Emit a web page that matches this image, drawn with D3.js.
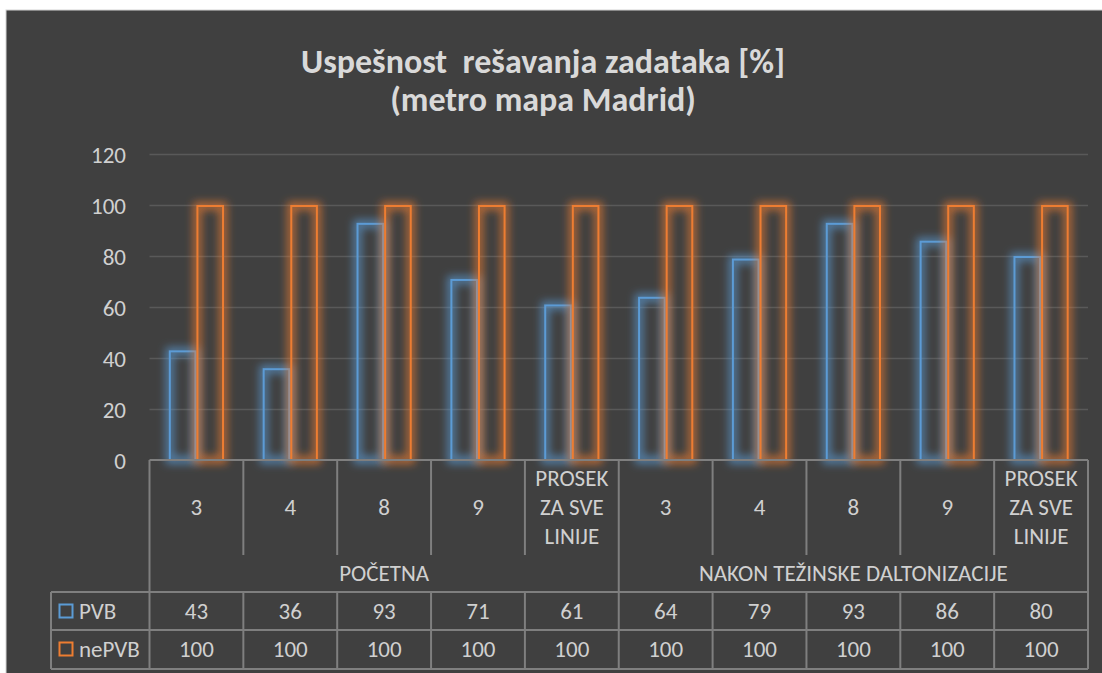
<!DOCTYPE html>
<html>
<head>
<meta charset="utf-8">
<script src="https://cdn.jsdelivr.net/npm/d3@7"></script>
<style>
  html, body { margin: 0; padding: 0; background: #ffffff; }
  svg { display: block; }
  text { font-family: Carlito, Lato, "Noto Sans", sans-serif; }
</style>
</head>
<body>
<svg id="chart" width="1102" height="673"></svg>
<script>
// Line categories and their groups
const categories = ["3", "4", "8", "9", "PROSEK\nZA SVE\nLINIJE", "3", "4", "8", "9", "PROSEK\nZA SVE\nLINIJE"];
const groups = ["POČETNA", "NAKON TEŽINSKE DALTONIZACIJE"];
const groupSizes = [5, 5];

// Series values (success rate, %)
const seriesNames = ["PVB", "nePVB"];
const pvbValues = [43, 36, 93, 71, 61, 64, 79, 93, 86, 80];
const nepvbValues = [100, 100, 100, 100, 100, 100, 100, 100, 100, 100];
const seriesColors = ["#5b9bd5", "#ed7d31"];

const yTicks = [0, 20, 40, 60, 80, 100, 120];
const titleLines = ["Uspešnost  rešavanja zadataka [%]", "(metro mapa Madrid)"];

const series = [pvbValues, nepvbValues];

const svg = d3.select("#chart");
const textColor = "#d0d0d0";
const lineColor = "#7f7f7f";
const fontSize = "23px";

// chart background
svg.append("rect").attr("x", 6).attr("y", 10).attr("width", 1102).attr("height", 670)
  .attr("fill", "#404040").attr("stroke", "#d4d4d4").attr("stroke-width", 1);

// glow filters
const defs = svg.append("defs");
seriesColors.forEach((c, i) => {
  const f = defs.append("filter").attr("id", "glow" + i)
    .attr("x", "-50%").attr("y", "-10%").attr("width", "200%").attr("height", "120%");
  f.append("feMorphology").attr("in", "SourceGraphic").attr("operator", "dilate").attr("radius", 2.5).attr("result", "thick");
  f.append("feGaussianBlur").attr("in", "thick").attr("stdDeviation", 4).attr("result", "blur");
  f.append("feComponentTransfer").attr("in", "blur").attr("result", "soft")
    .append("feFuncA").attr("type", "linear").attr("slope", 0.7);
  const m = f.append("feMerge");
  m.append("feMergeNode").attr("in", "soft");
  m.append("feMergeNode").attr("in", "SourceGraphic");
});

// scales
const plotLeft = 149.5, plotRight = 1088;
const x0 = d3.scaleBand().domain(d3.range(categories.length)).range([plotLeft, plotRight]).padding(0);
const x1 = d3.scaleBand().domain(seriesNames).range([0, x0.bandwidth()]).paddingInner(0).paddingOuter(0.7);
const y = d3.scaleLinear().domain([0, 120]).range([460, 154]);

// gridlines
svg.append("g").selectAll("line").data(yTicks.filter(t => t > 0)).join("line")
  .attr("x1", plotLeft).attr("x2", plotRight)
  .attr("y1", d => Math.round(y(d)) + 0.5).attr("y2", d => Math.round(y(d)) + 0.5)
  .attr("stroke", "#595959").attr("stroke-width", 1.3);

// y axis labels
const yAxis = d3.axisLeft(y).tickValues(yTicks).tickSize(0).tickPadding(0);
const yg = svg.append("g").attr("transform", "translate(126,0)").call(yAxis);
yg.select(".domain").remove();
yg.selectAll("text").attr("fill", textColor).style("font-size", fontSize)
  .style("font-family", "Carlito, Lato, 'Noto Sans', sans-serif").attr("dy", "0.35em");

// title
svg.append("g").selectAll("text").data(titleLines).join("text")
  .attr("x", 543).attr("y", (d, i) => 73 + i * 38)
  .attr("text-anchor", "middle").attr("fill", "#d9d9d9")
  .style("font-size", "34px").style("font-weight", "bold")
  .style("white-space", "pre").attr("xml:space", "preserve")
  .text(d => d);

// bars
series.forEach((vals, si) => {
  svg.append("g").attr("filter", "url(#glow" + si + ")")
    .selectAll("rect").data(vals).join("rect")
    .attr("x", (d, i) => x0(i) + x1(seriesNames[si]) + 1)
    .attr("y", d => y(d) + 1)
    .attr("width", x1.bandwidth() - 2)
    .attr("height", d => y(0) - y(d) - 1)
    .attr("fill", "none")
    .attr("stroke", seriesColors[si]).attr("stroke-width", 2);
});

// data table
const tbl = svg.append("g").attr("stroke", lineColor).attr("stroke-width", 2);
const rowCatTop = 460, rowCatBottom = 555, rowGroupBottom = 592, rowPvbBottom = 630, rowNeBottom = 669;
const legendLeft = 51;

// axis line / top of table
tbl.append("line").attr("x1", plotLeft).attr("x2", plotRight).attr("y1", rowCatTop).attr("y2", rowCatTop);
// horizontal row lines
[rowGroupBottom, rowPvbBottom, rowNeBottom].forEach(yy => {
  tbl.append("line").attr("x1", legendLeft).attr("x2", plotRight).attr("y1", yy).attr("y2", yy);
});
// left & right borders
tbl.append("line").attr("x1", plotLeft).attr("x2", plotLeft).attr("y1", rowCatTop).attr("y2", rowNeBottom);
tbl.append("line").attr("x1", plotRight).attr("x2", plotRight).attr("y1", rowCatTop).attr("y2", rowNeBottom);
tbl.append("line").attr("x1", legendLeft).attr("x2", legendLeft).attr("y1", rowGroupBottom).attr("y2", rowNeBottom);
// category dividers
const groupEnds = d3.cumsum(groupSizes);
d3.range(1, categories.length).forEach(i => {
  const xx = x0(i);
  const isGroupEdge = groupEnds.includes(i);
  tbl.append("line").attr("x1", xx).attr("x2", xx)
    .attr("y1", rowCatTop).attr("y2", isGroupEdge ? rowGroupBottom : rowCatBottom);
  tbl.append("line").attr("x1", xx).attr("x2", xx)
    .attr("y1", rowGroupBottom).attr("y2", rowNeBottom);
});

const txt = svg.append("g").attr("fill", textColor).style("font-size", fontSize).attr("text-anchor", "middle");

// category labels
categories.forEach((c, i) => {
  const lines = c.split("\n");
  const cx = x0(i) + x0.bandwidth() / 2;
  lines.forEach((ln, k) => {
    txt.append("text").attr("x", cx)
      .attr("y", 507 + (k - (lines.length - 1) / 2) * 29)
      .attr("dy", "0.35em").text(ln);
  });
});

// group labels
let start = 0;
groups.forEach((g, gi) => {
  const a = x0(start), b = (start + groupSizes[gi] < categories.length) ? x0(start + groupSizes[gi]) : plotRight;
  txt.append("text").attr("x", (a + b) / 2).attr("y", 573).attr("dy", "0.35em").text(g);
  start += groupSizes[gi];
});

// value rows with legend keys
const rowMid = [611, 649];
series.forEach((vals, si) => {
  vals.forEach((v, i) => {
    txt.append("text").attr("x", x0(i) + x0.bandwidth() / 2).attr("y", rowMid[si])
      .attr("dy", "0.35em").text(v);
  });
  svg.append("rect").attr("x", 59.5).attr("y", rowMid[si] - 6.5).attr("width", 13).attr("height", 13)
    .attr("fill", "none").attr("stroke", seriesColors[si]).attr("stroke-width", 2);
  svg.append("text").attr("x", 79).attr("y", rowMid[si]).attr("dy", "0.35em")
    .attr("fill", textColor).style("font-size", fontSize).text(seriesNames[si]);
});
</script>
</body>
</html>
